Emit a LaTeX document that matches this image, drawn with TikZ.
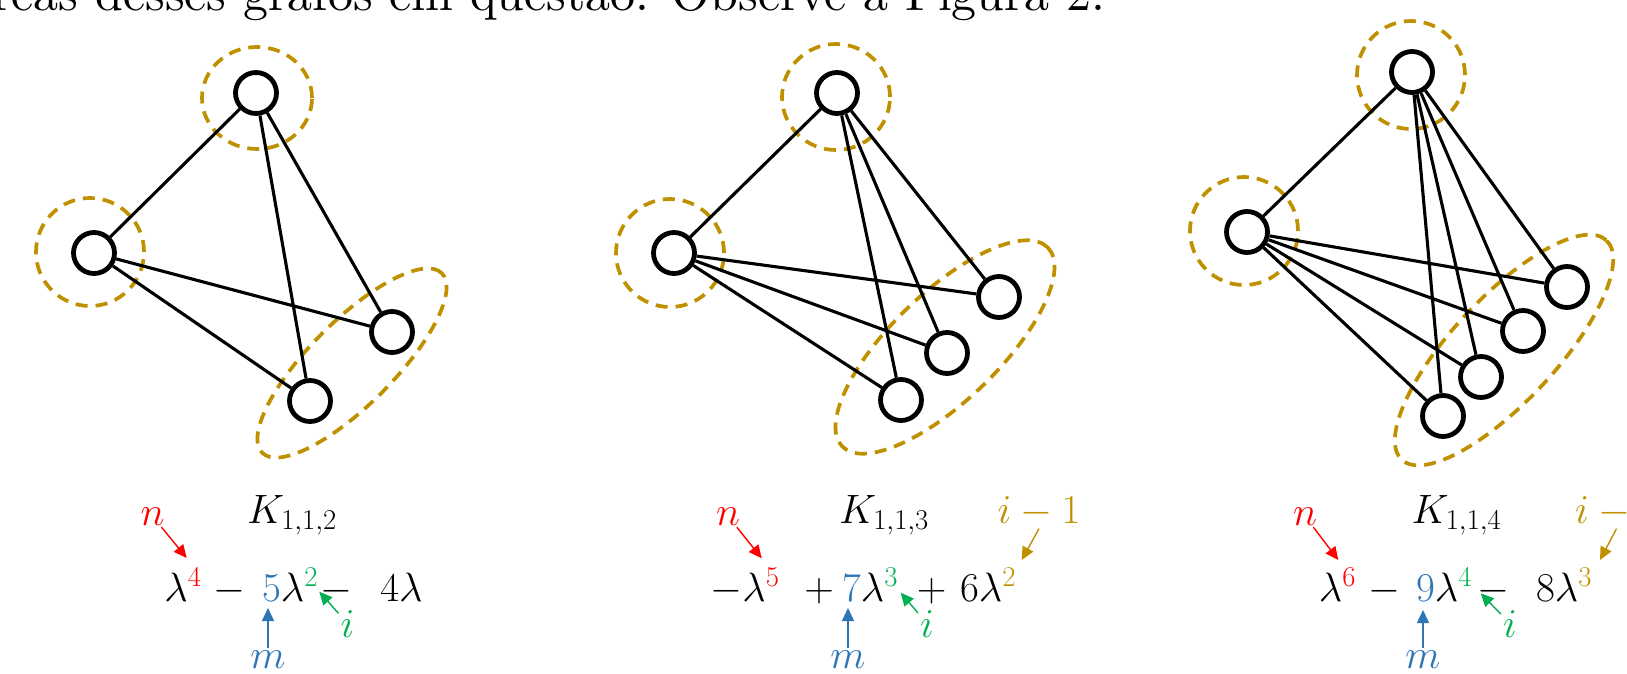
\RequirePackage{fix-cm}
\documentclass[tikz,border=0pt]{standalone}
\usetikzlibrary{arrows.meta}
\definecolor{nred}{RGB}{255,0,0}
\definecolor{mblue}{RGB}{46,117,182}
\definecolor{igreen}{RGB}{0,176,80}
\definecolor{gold}{RGB}{191,144,0}
\font\topfont="[lmroman10-regular]" at 50pt
\tikzset{
  vtx/.style={circle,draw,line width=4.8pt,fill=white,minimum size=41pt,inner sep=0pt},
  edg/.style={line width=3.1pt},
  grp/.style={draw=gold,line width=3.7pt,dash pattern=on 12pt off 8pt},
  lbl/.style={inner sep=2pt,anchor=base,font=\fontsize{41}{48}\selectfont},
  poly/.style={inner sep=0pt,anchor=base,font=\fontsize{41}{48}\selectfont},
  ptr/.style={line width=1.4pt,-{Triangle[length=13pt,width=12pt]}},
}
\begin{document}
\begin{tikzpicture}[x=1pt,y=1pt]
\path[use as bounding box] (0,0) rectangle (1627,-674);
\clip (0,0) rectangle (1627,-674);
\node[anchor=base west,inner sep=0pt] (top) at (-8,-10.5) {\topfont reas desses grafos em questão. Observe a Figura 2.};

% ---------- Panel 1 ----------
\draw[grp] (257,-98) ellipse [x radius=55pt,y radius=51pt];
\draw[grp] (90,-252) circle [radius=54pt];
\draw[grp,rotate around={45:(352,-363)}] (352,-363) ellipse [x radius=127pt,y radius=42pt];
\node[vtx] (a1) at (256,-93) {};
\node[vtx] (b1) at (94,-253) {};
\node[vtx] (c1) at (392,-332) {};
\node[vtx] (d1) at (310,-401) {};
\draw[edg] (a1)--(b1) (a1)--(d1) (a1)--(c1) (b1)--(c1) (b1)--(d1);

\node[lbl,text=nred] (n1) at (152.5,-525) {$n$};
\node[poly] (k1) at (292,-523) {$K_{1,1,2}$};
\node[poly] (p1a) at (183,-601) {$\lambda^{\color{nred}4}$};
\node[poly] (p1b) at (229,-601) {$-$};
\node[poly] (p1c) at (290,-601) {${\color{mblue}5}\lambda^{\color{igreen}2}$};
\node[poly] (p1d) at (336,-601) {$-$};
\node[poly] (p1e) at (401.5,-601) {$4\lambda$};
\node[lbl,text=mblue] (m1) at (268,-668) {$m$};
\node[lbl,text=igreen] (i1) at (347.5,-637) {$i$};
\coordinate (tn1) at (186.7,-558);
\coordinate (tm1) at (268,-608);
\coordinate (ti1) at (319.3,-591.7);
\draw[ptr,nred] (n1) -- (tn1);
\draw[ptr,mblue] (m1.north) -- (tm1);
\draw[ptr,igreen] (i1) -- (ti1);

% ---------- Panel 2 ----------
\draw[grp] (836,-97) ellipse [x radius=54pt,y radius=53pt];
\draw[grp] (670,-253) circle [radius=54pt];
\draw[grp,rotate around={44:(945,-347)}] (945,-347) ellipse [x radius=143pt,y radius=54pt];
\node[vtx] (a2) at (837,-93) {};
\node[vtx] (b2) at (674,-253) {};
\node[vtx] (c2) at (999,-297) {};
\node[vtx] (d2) at (947,-353) {};
\node[vtx] (e2) at (901,-400) {};
\draw[edg] (a2)--(b2) (a2)--(c2) (a2)--(d2) (a2)--(e2) (b2)--(c2) (b2)--(d2) (b2)--(e2);

\node[lbl,text=nred] (n2) at (728,-525) {$n$};
\node[poly] (k2) at (884,-523) {$K_{1,1,3}$};
\node[lbl,text=gold] (g2) at (1039,-523) {$i-1$};
\node[poly] (p2a) at (745,-601) {$-\lambda^{\color{nred}5}$};
\node[poly] (p2b) at (819,-601) {$+$};
\node[poly] (p2c) at (870,-601) {${\color{mblue}7}\lambda^{\color{igreen}3}$};
\node[poly] (p2d) at (931.5,-601) {$+$};
\node[poly] (p2e) at (988,-601) {$6\lambda^{\color{gold}2}$};
\node[lbl,text=mblue] (m2) at (848,-668) {$m$};
\node[lbl,text=igreen] (i2) at (927,-637) {$i$};
\coordinate (tn2) at (761.7,-558.3);
\coordinate (tm2) at (848,-608);
\coordinate (ti2) at (900.7,-592.7);
\coordinate (tg2) at (1021.7,-560);
\draw[ptr,nred] (n2) -- (tn2);
\draw[ptr,mblue] (m2.north) -- (tm2);
\draw[ptr,igreen] (i2) -- (ti2);
\draw[ptr,gold] (g2.south) -- (tg2);

% ---------- Panel 3 ----------
\draw[grp] (1411,-75) circle [radius=54pt];
\draw[grp] (1244,-231) circle [radius=54pt];
\draw[grp,rotate around={47:(1504,-350)}] (1504,-350) ellipse [x radius=150pt,y radius=52pt];
\node[vtx] (a3) at (1412,-72) {};
\node[vtx] (b3) at (1247,-232) {};
\node[vtx] (c3) at (1567,-287) {};
\node[vtx] (d3) at (1523,-331) {};
\node[vtx] (e3) at (1481,-377) {};
\node[vtx] (f3) at (1443,-416) {};
\draw[edg] (a3)--(b3) (a3)--(c3) (a3)--(d3) (a3)--(e3) (a3)--(f3)
           (b3)--(c3) (b3)--(d3) (b3)--(e3) (b3)--(f3);

\node[lbl,text=nred] (n3) at (1305,-525) {$n$};
\node[poly] (k3) at (1456.5,-523) {$K_{1,1,4}$};
\node[lbl,text=gold,anchor=base west] (g3) at (1573,-523) {$i-1$};
\node[poly] (p3a) at (1337.5,-601) {$\lambda^{\color{nred}6}$};
\node[poly] (p3b) at (1384,-601) {$-$};
\node[poly] (p3c) at (1444,-601) {${\color{mblue}9}\lambda^{\color{igreen}4}$};
\node[poly] (p3d) at (1493,-601) {$-$};
\node[poly] (p3e) at (1564,-601) {$8\lambda^{\color{gold}3}$};
\node[lbl,text=mblue] (m3) at (1423,-668) {$m$};
\node[lbl,text=igreen] (i3) at (1510,-637) {$i$};
\coordinate (tn3) at (1338.3,-560);
\coordinate (tm3) at (1423,-610);
\coordinate (ti3) at (1480.7,-593.3);
\coordinate (tg3) at (1600,-560);
\draw[ptr,nred] (n3) -- (tn3);
\draw[ptr,mblue] (m3.north) -- (tm3);
\draw[ptr,igreen] (i3) -- (ti3);
\draw[ptr,gold] (g3.south) -- (tg3);
\end{tikzpicture}
\end{document}
